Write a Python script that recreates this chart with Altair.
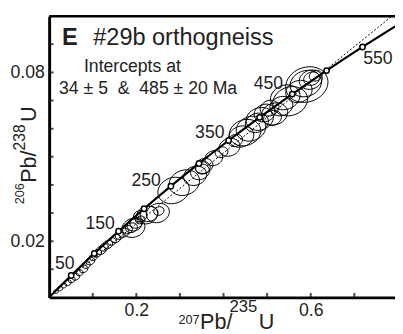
import altair as alt
import pandas as pd

FONT = "Liberation Sans"

# Concordia reference points (age in Ma, 207Pb/235U, 206Pb/238U)
conc_age = [0, 50, 100, 150, 200, 250, 300, 350, 400, 450, 500, 550, 600]
conc_x = [0.0, 0.0505, 0.1035, 0.1592, 0.2177, 0.2792, 0.3437, 0.4116, 0.4828, 0.5577, 0.6363, 0.7188, 0.8056]
conc_y = [0.0, 0.00779, 0.01563, 0.02354, 0.03151, 0.03954, 0.04764, 0.05579, 0.06402, 0.07230, 0.08065, 0.08906, 0.09754]

# age labels shown on the concordia
lab_text = ["50", "150", "250", "350", "450", "550"]
lab_x = [0.036, 0.117, 0.2225, 0.3685, 0.503, 0.754]
lab_y = [0.0119, 0.0262, 0.0415, 0.0586, 0.076, 0.0846]

# discordia chord (lower intercept 34 Ma, extended past 485 Ma)
disc_x = [0.034, 0.786]
disc_y = [0.0053, 0.1]

# analyses: centre and full ellipse width (in 207Pb/235U units)
ell_x = [0.0157, 0.0247, 0.0337, 0.0427, 0.0517, 0.0607, 0.0697, 0.0787, 0.0854, 0.0944,
         0.1011, 0.1101, 0.1191, 0.1258, 0.1348, 0.1438, 0.1528, 0.1618, 0.1708, 0.1798,
         0.1888, 0.2000, 0.2090, 0.1955, 0.1933, 0.2247, 0.2090, 0.2494, 0.2517, 0.2292,
         0.2854, 0.3101, 0.3348, 0.3461, 0.3528, 0.3551, 0.3775, 0.3955, 0.4135, 0.4270,
         0.4404, 0.4494, 0.4629, 0.4764, 0.4831, 0.4944, 0.5056, 0.5124, 0.5169, 0.5326,
         0.5528, 0.5416, 0.5730, 0.5888, 0.5910, 0.6000, 0.6022, 0.6112]
ell_y = [0.00209, 0.00314, 0.00419, 0.00523, 0.00628, 0.00732, 0.00872, 0.01012, 0.01151, 0.01291,
         0.01430, 0.01570, 0.01674, 0.01779, 0.01884, 0.01988, 0.02093, 0.02197, 0.02302, 0.02407,
         0.02476, 0.02651, 0.02756, 0.02581, 0.02476, 0.02930, 0.02895, 0.03000, 0.03070, 0.02965,
         0.03802, 0.04081, 0.04325, 0.04465, 0.04604, 0.04674, 0.04953, 0.05162, 0.05337, 0.05581,
         0.05720, 0.05860, 0.06000, 0.06208, 0.06348, 0.06557, 0.06732, 0.06383, 0.06523, 0.06802,
         0.06976, 0.07115, 0.07325, 0.07604, 0.07569, 0.07743, 0.07778, 0.07883]
ell_w = [0.010, 0.012, 0.012, 0.015, 0.015, 0.017, 0.015, 0.019, 0.017, 0.019,
         0.017, 0.019, 0.021, 0.019, 0.021, 0.019, 0.021, 0.019, 0.023, 0.021,
         0.025, 0.027, 0.020, 0.031, 0.049, 0.045, 0.029, 0.049, 0.022, 0.038,
         0.067, 0.065, 0.049, 0.040, 0.031, 0.038, 0.038, 0.027, 0.045, 0.031,
         0.054, 0.067, 0.063, 0.049, 0.058, 0.045, 0.040, 0.038, 0.056, 0.049,
         0.074, 0.063, 0.056, 0.067, 0.090, 0.049, 0.034, 0.027]

x_ticks = [0.1, 0.2, 0.3, 0.4, 0.5, 0.6, 0.7]
y_ticks = [0.01, 0.02, 0.03, 0.04, 0.05, 0.06, 0.07, 0.08, 0.09]

W, H = 353, 287
xs = alt.Scale(domain=[0, 0.7933], nice=False, zero=False)
ys = alt.Scale(domain=[0, 0.1], nice=False, zero=False)

conc = pd.DataFrame({"age": conc_age, "x": conc_x, "y": conc_y})
marks = conc[(conc.age > 0) & (conc.age <= 550)]
labs = pd.DataFrame({"t": lab_text, "x": lab_x, "y": lab_y})
disc = pd.DataFrame({"x": disc_x, "y": disc_y})
ell = pd.DataFrame({"x": ell_x, "y": ell_y, "w": ell_w})

X = alt.X("x:Q", scale=xs, axis=alt.Axis(values=[0.2, 0.6], ticks=False, grid=False, title=None,
                                          labelFont=FONT, labelFontSize=18, labelColor="#222",
                                          labelPadding=4, domainColor="black", domainWidth=3,
                                          format=".1f"))
Y = alt.Y("y:Q", scale=ys, axis=alt.Axis(values=[0.02, 0.08], ticks=False, grid=False, title=None,
                                          labelFont=FONT, labelFontSize=18, labelColor="#222",
                                          labelPadding=5, domainColor="black", domainWidth=3,
                                          format=".2f"))

ellipse_path = "M -1 0 A 1 0.8 0 1 0 1 0 A 1 0.8 0 1 0 -1 0 Z"

ellipses = alt.Chart(ell).mark_point(shape=ellipse_path, filled=False, stroke="black",
                                     strokeWidth=0.9, angle=340, clip=True, opacity=1).encode(
    x=X, y=Y,
    size=alt.Size("w:Q", scale=alt.Scale(type="pow", exponent=2, domain=[0, 0.1], range=[0, 2400]),
                  legend=None))

discordia = alt.Chart(disc).mark_line(color="black", strokeWidth=1, strokeDash=[2, 2], clip=True).encode(
    x=X, y=Y)

concordia = alt.Chart(conc).mark_line(color="black", strokeWidth=2.2, interpolate="monotone", clip=True).encode(
    x=X, y=Y, order="age:Q")

markers = alt.Chart(marks).mark_point(shape="circle", filled=True, fill="white", stroke="black",
                                      strokeWidth=1.5, size=30, opacity=1).encode(x=X, y=Y)

age_labels = alt.Chart(labs).mark_text(font=FONT, fontSize=18, color="#222", align="center",
                                       baseline="middle").encode(x=X, y=Y, text="t:N")

xt = alt.Chart(pd.DataFrame({"x": x_ticks})).mark_tick(color="black", thickness=2, size=9, clip=True).encode(
    x=X, y=alt.value(H))
yt = alt.Chart(pd.DataFrame({"y": y_ticks})).mark_tick(color="black", thickness=2, size=9, clip=True).encode(
    y=Y, x=alt.value(0))

top = alt.Chart(pd.DataFrame({"a": [0]})).mark_rule(color="black", strokeWidth=2.5).encode(
    x=alt.value(0), x2=alt.value(W), y=alt.value(0))


def txt(s, x, y, size, align="left", baseline="alphabetic", weight="normal", angle=0):
    return alt.Chart(pd.DataFrame({"t": [s]})).mark_text(
        font=FONT, fontSize=size, align=align, baseline=baseline, fontWeight=weight,
        angle=angle, color="#222").encode(text="t:N", x=alt.value(x), y=alt.value(y))


NB = "\u00a0"
texts = [
    txt("E", 13, 29, 24, weight="bold"),
    txt("#29b orthogneiss", 45, 29, 24),
    txt("Intercepts at", 85, 57, 18, align="center"),
    txt("34 ± 5" + NB + " & " + NB + "485 ± 20 Ma", 101, 79, 18, align="center"),
    # x axis title
    txt("207", 132, 310, 13, baseline="middle"),
    txt("Pb/", 154, 319, 22),
    txt("235", 184, 297, 17, baseline="middle"),
    txt("U", 214, 319, 22),
    # y axis title (rotated)
    txt("206", -30, 192, 13, baseline="middle", angle=270),
    txt("Pb/", -13, 170, 22, angle=270),
    txt("238", -30, 137, 16, baseline="middle", angle=270),
    txt("U", -13, 108, 22, angle=270),
]

chart = alt.layer(ellipses, discordia, concordia, markers, age_labels, xt, yt, top, *texts).properties(
    width=W, height=H,
    autosize=alt.AutoSizeParams(type="none"),
    padding={"left": 42, "top": 5, "right": 0, "bottom": 34},
).configure_view(stroke=None).configure(background="white")

chart.save("out.html", embed_options={"renderer": "svg", "actions": False})
